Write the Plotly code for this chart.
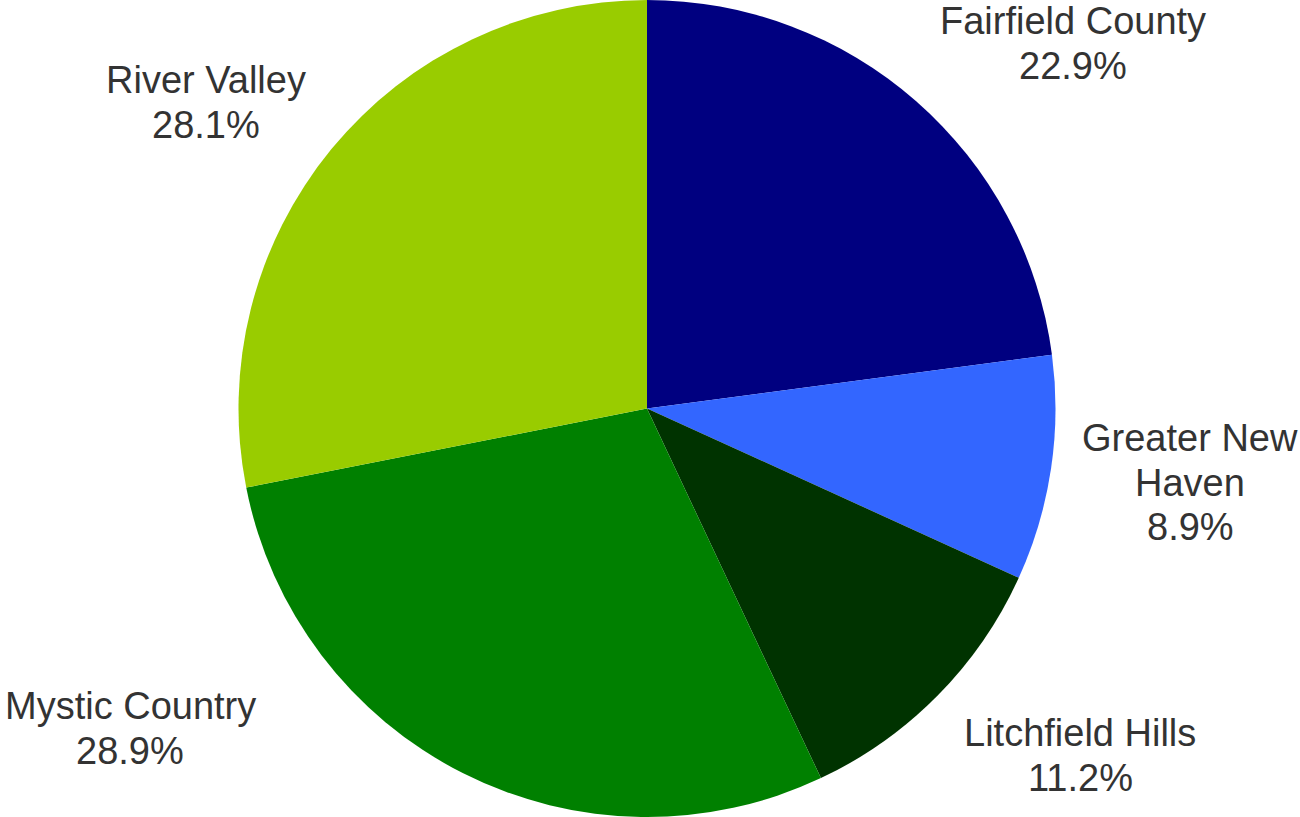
import plotly.graph_objects as go

# Share of visitors by tourism region
regions = ["Fairfield County", "Greater New Haven", "Litchfield Hills", "Mystic Country", "River Valley"]
shares = [22.9, 8.9, 11.2, 28.9, 28.1]
colors = ["#000080", "#3366FF", "#003300", "#008000", "#99CC00"]

# Label lines for each region (name may wrap), and where each block sits (px)
label_lines = {
    "Fairfield County": ["Fairfield County"],
    "Greater New Haven": ["Greater New", "Haven"],
    "Litchfield Hills": ["Litchfield Hills"],
    "Mystic Country": ["Mystic Country"],
    "River Valley": ["River Valley"],
}
label_pos = {
    "Fairfield County": (1073, 35),
    "Greater New Haven": (1190, 452),
    "Litchfield Hills": (1080, 747),
    "Mystic Country": (130, 720),
    "River Valley": (206, 94),
}

W, H = 1300, 817
FONT = "Liberation Sans, Arial, sans-serif"
FS = 38
LINE = 44.5

fig = go.Figure(go.Pie(
    labels=regions,
    values=shares,
    sort=False,
    direction="clockwise",
    rotation=0,
    marker=dict(colors=colors, line=dict(width=0)),
    textinfo="none",
    hoverinfo="label+percent",
    showlegend=False,
    domain=dict(x=[0, 1294 / W], y=[0, 1]),
))

annotations = []
for name, val in zip(regions, shares):
    lines = label_lines[name] + [f"{val:.1f}%"]
    cx, base = label_pos[name]
    for i, line in enumerate(lines):
        b = base + i * LINE
        # vertical centre of the cap height sits ~0.36 em above the baseline
        ymid = b - 0.36 * FS
        annotations.append(dict(
            x=cx / W, y=1 - ymid / H, xref="paper", yref="paper",
            text=line, showarrow=False, xanchor="center", yanchor="middle",
            borderpad=0,
            font=dict(family=FONT, size=FS, color="#333333"),
        ))

fig.update_layout(
    width=W, height=H,
    margin=dict(l=0, r=0, t=0, b=0),
    paper_bgcolor="white",
    annotations=annotations,
)

fig.write_html("out.html")
